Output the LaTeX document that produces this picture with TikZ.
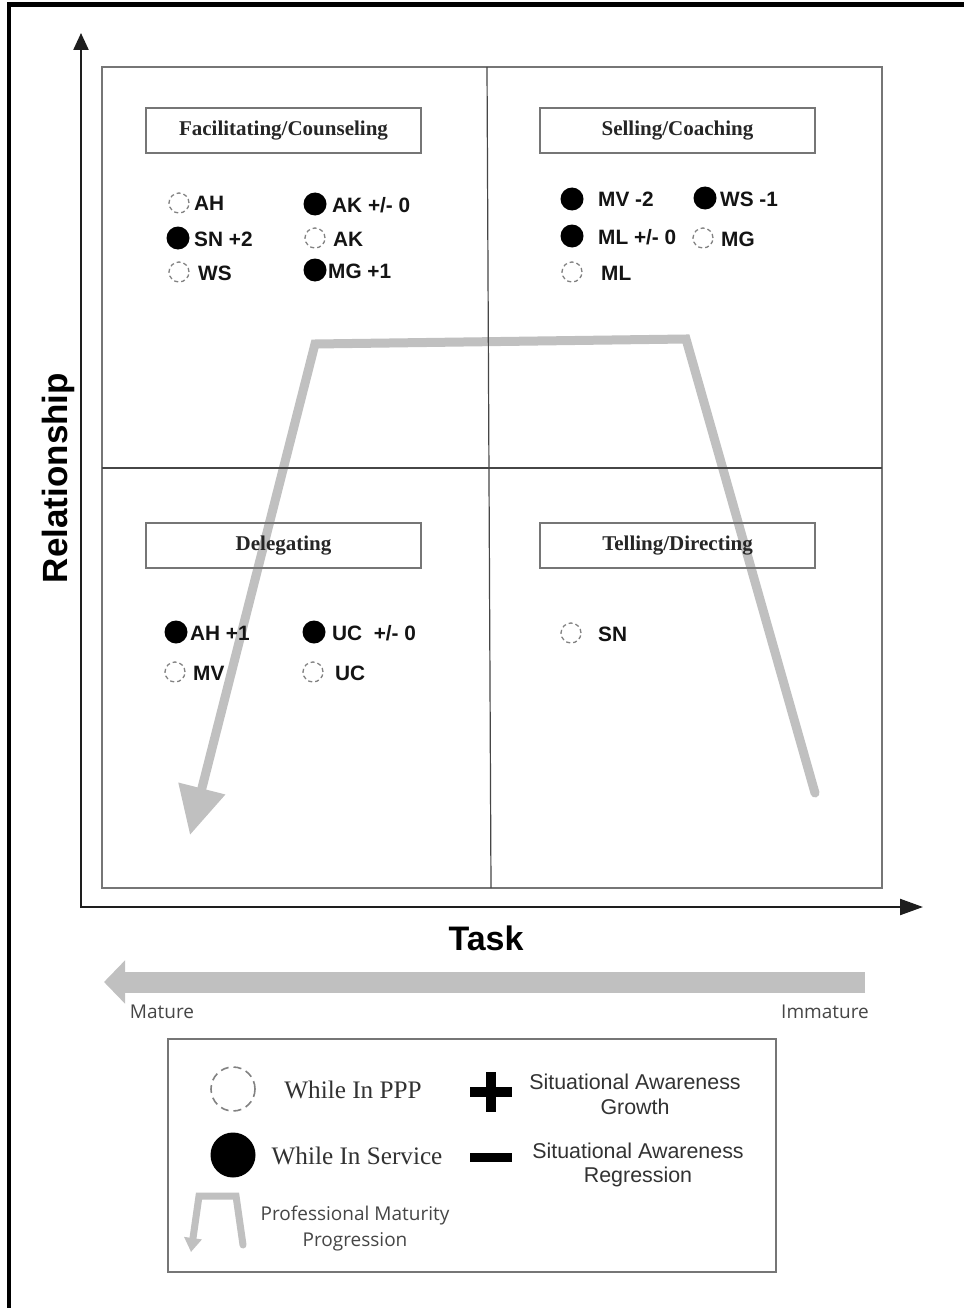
\documentclass[tikz,border=0pt]{standalone}
\usepackage{fontspec}
\setmainfont{Liberation Serif}
\setsansfont{Liberation Sans}
\newfontfamily\uifont{Open Sans}
\usetikzlibrary{arrows.meta}
\definecolor{boxgray}{RGB}{118,118,118}
\definecolor{midgray}{RGB}{70,70,70}
\definecolor{pgray}{RGB}{192,192,192}
\definecolor{dashgray}{RGB}{130,130,130}
\definecolor{axisblack}{RGB}{30,30,30}
\definecolor{txtgray}{RGB}{50,50,50}
\definecolor{uigray}{RGB}{70,70,70}
\tikzset{
  titlebox/.style={draw=boxgray, line width=1.4pt, minimum width=275pt, minimum height=45pt, inner sep=0pt,
    font=\bfseries\fontsize{21}{23}\selectfont, text=black!85},
  dot/.style={circle, fill=black, minimum size=23pt, inner sep=0pt},
  ppp/.style={circle, draw=dashgray, line width=1.3pt, dash pattern=on 4pt off 3pt, minimum size=20pt, inner sep=0pt},
  lab/.style={anchor=base west, inner sep=0pt, font=\sffamily\bfseries\fontsize{20.8}{23}\selectfont, text=black!92},
  legtxt/.style={anchor=base, inner sep=0pt, font=\fontsize{25.2}{28}\selectfont, text=txtgray},
  legsans/.style={anchor=base, inner sep=0pt, font=\sffamily\fontsize{21.4}{24}\selectfont, text=txtgray},
  uitxt/.style={anchor=base, inner sep=0pt, font=\uifont\fontsize{19}{22}\selectfont, text=uigray},
  axislab/.style={anchor=base, inner sep=0pt, font=\sffamily\bfseries\fontsize{34}{37}\selectfont, text=black},
  progpath/.style={draw=pgray, line width=9pt, line cap=round, line join=miter},
}
\begin{document}
\begin{tikzpicture}[x=1pt,y=-1pt]
\useasboundingbox (0,0) rectangle (964,1308);
\fill[white] (0,0) rectangle (964,1308);
% frame (left and top edges)
\draw[black, line width=4.5pt] (9,1308) -- (9,4.5) -- (964,4.5);

% axes
\coordinate (origin) at (81,907);
\coordinate (ytip) at (81,33);
\coordinate (xtip) at (923,907);
\draw[axisblack, line width=2.3pt, -{Triangle[length=17pt,width=15pt]}] (81,908) -- (ytip);
\draw[axisblack, line width=2.3pt, -{Triangle[length=23pt,width=16pt]}] (80,907) -- (xtip);
\node[axislab] (task) at (486,950) {Task};
\node[axislab, rotate=90, font=\sffamily\bfseries\fontsize{35}{38}\selectfont] (rel) at (67,478) {Relationship};

% quadrant frame
\draw[boxgray, line width=1.5pt] (102,67) rectangle (882,888);

% progression path
\coordinate (p0) at (815,793);
\coordinate (p1) at (686,339);
\coordinate (p2) at (315,344);
\coordinate (p3) at (190,835);
\draw[progpath, -{Triangle[length=48pt,width=46pt]}] (p0) -- (p1) -- (p2) -- (p3);

% mid lines (over the path)
\draw[midgray, line width=1.2pt] (487,67) -- (491,888);
\draw[midgray, line width=1.2pt] (102,468) -- (882,468);

% quadrant titles
\node[titlebox] (fac) at (283.5,130.5) {Facilitating/Counseling};
\node[titlebox] (sel) at (677.5,130.5) {Selling/Coaching};
\node[titlebox] (del) at (283.5,545.5) {Delegating};
\node[titlebox] (tel) at (677.5,545.5) {Telling/Directing};

% top-left
\node[ppp] (c1) at (179,203) {};  \node[lab] (t1) at (194,211) {AH};
\node[dot] (c2) at (178,238) {};  \node[lab] (t2) at (194,246) {SN +2};
\node[ppp] (c3) at (179,272) {};  \node[lab] (t3) at (198,280) {WS};
\node[dot] (c4) at (315,204) {};  \node[lab] (t4) at (332,212) {AK +/- 0};
\node[ppp] (c5) at (315,238) {};  \node[lab] (t5) at (333,246) {AK};
\node[dot] (c6) at (315,270) {};  \node[lab] (t6) at (328,278) {MG +1};

% top-right
\node[dot] (c7) at (572,199) {};  \node[lab] (t7) at (598,207) {MV -2};
\node[dot] (c8) at (705,198) {};  \node[lab] (t8) at (720,206) {WS -1};
\node[dot] (c9) at (572,236) {};  \node[lab] (t9) at (598,244) {ML +/- 0};
\node[ppp] (c10) at (703,238) {}; \node[lab] (t10) at (721,246) {MG};
\node[ppp] (c11) at (572,272) {}; \node[lab] (t11) at (601,280) {ML};

% bottom-left
\node[dot] (c12) at (176,632) {}; \node[lab] (t12) at (190,640) {AH +1};
\node[ppp] (c13) at (175,672) {}; \node[lab] (t13) at (193,680) {MV};
\node[dot] (c14) at (314,632) {}; \node[lab] (t14) at (332,640) {UC\ \ +/- 0};
\node[ppp] (c15) at (313,672) {}; \node[lab] (t15) at (335,680) {UC};

% bottom-right
\node[ppp] (c16) at (571,633) {}; \node[lab] (t16) at (598,641) {SN};

% maturity arrow
\coordinate (m0) at (865,982);
\coordinate (m1) at (104,982);
\draw[pgray, line width=21pt, -{Triangle[length=21pt,width=42pt]}] (m0) -- (m1);
\node[uitxt] (mat) at (162,1018) {Mature};
\node[uitxt] (imm) at (825,1018) {Immature};

% legend
\draw[boxgray, line width=1.4pt] (168,1039) rectangle (776,1272);
\node[circle, draw=dashgray, line width=1.6pt, dash pattern=on 8pt off 5pt, minimum size=44pt, inner sep=0pt] (lppp) at (233,1089) {};
\node[legtxt] (lppptxt) at (353,1098) {While In PPP};
\node[circle, fill=black, minimum size=45pt, inner sep=0pt] (lsvc) at (233,1155) {};
\node[legtxt] (lsvctxt) at (357,1164) {While In Service};
\fill[black] (470,1087) rectangle (512,1097);
\fill[black] (486,1072) rectangle (496,1112);
\fill[black] (470,1152.5) rectangle (512,1161.5);
\node[legsans] (g1) at (635,1089) {Situational Awareness};
\node[legsans] (g2) at (635,1114) {Growth};
\node[legsans] (r1) at (638,1158) {Situational Awareness};
\node[legsans] (r2) at (638,1182) {Regression};
\coordinate (q0) at (243,1245);
\coordinate (q1) at (236,1196);
\coordinate (q2) at (199,1196);
\coordinate (q3) at (191,1252);
\draw[draw=pgray, line width=7pt, line cap=round, -{Triangle[length=14pt,width=17pt]}] (q0) -- (q1) -- (q2) -- (q3);
\node[uitxt] (pm1) at (355,1220) {Professional Maturity};
\node[uitxt] (pm2) at (355,1246) {Progression};
\end{tikzpicture}
\end{document}
